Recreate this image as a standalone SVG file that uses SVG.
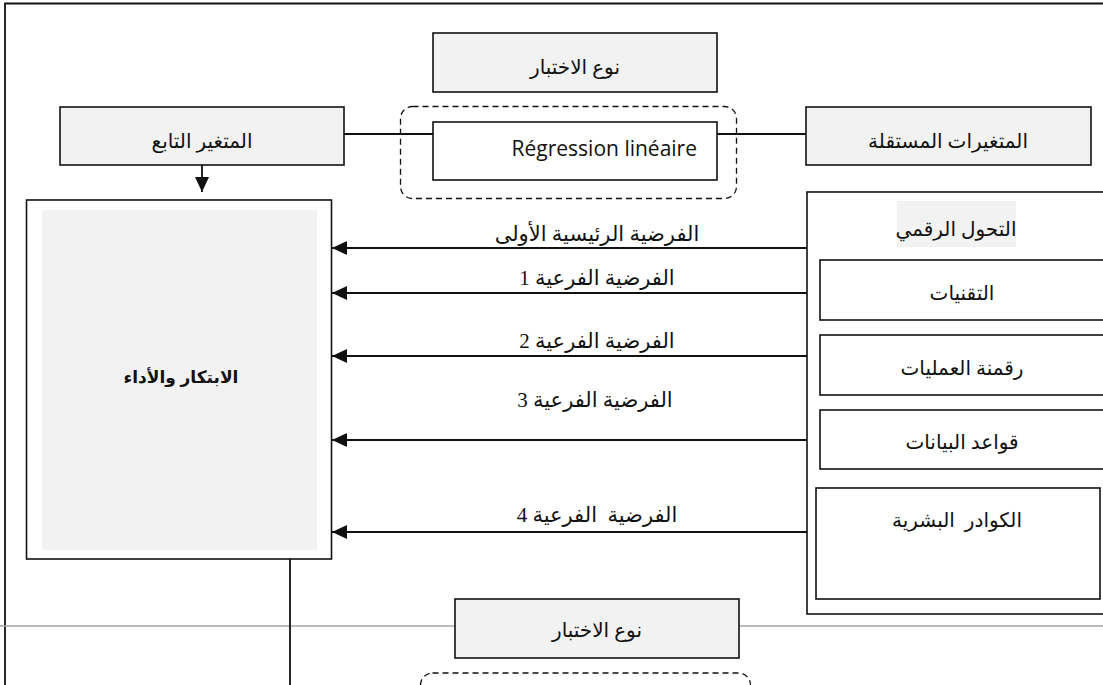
<svg xmlns="http://www.w3.org/2000/svg" width="1103" height="685" viewBox="0 0 1103 685">
<defs>
<style>
.box{fill:#fff;stroke:#111;stroke-width:1.6}
.gbox{fill:#f2f2f2;stroke:#111;stroke-width:1.6}
.dash{fill:none;stroke:#111;stroke-width:1.3;stroke-dasharray:6 4}
.ln{fill:none;stroke:#111;stroke-width:1.8}
.ar{font-family:"Liberation Serif","DejaVu Sans",serif;font-size:20px;fill:#111;text-anchor:middle}
.lbl{font-family:"Liberation Serif","DejaVu Sans",serif;font-size:21px;fill:#111;text-anchor:middle}
.lat{font-family:"Open Sans","Liberation Sans",sans-serif;font-size:21px;fill:#111;text-anchor:end}
.bold{font-family:"Liberation Sans","DejaVu Sans",sans-serif;font-size:17px;font-weight:bold;fill:#111;text-anchor:middle}
</style>
<marker id="ah" viewBox="0 0 15 14" refX="15" refY="7" markerWidth="15" markerHeight="14" markerUnits="userSpaceOnUse" orient="auto">
<path d="M0,0 L15,7 L0,14 z" fill="#111"/>
</marker>
</defs>
<g id="frame">
<path d="M5,685 L5,3.5 L1103,3.5" class="ln" stroke-width="1.6"/>
<path d="M0,626 L455,626 M739,626 L1103,626" fill="none" stroke="#a6a6a6" stroke-width="1.6"/>
</g>
<g id="connectors">
<path d="M344,134 L433,134 M717,134 L807,134" class="ln"/>
<path d="M202,165 L202,192" class="ln" marker-end="url(#ah)"/>
<path d="M807,248 L332,248" class="ln" marker-end="url(#ah)"/>
<path d="M807,293 L332,293" class="ln" marker-end="url(#ah)"/>
<path d="M807,356 L332,356" class="ln" marker-end="url(#ah)"/>
<path d="M807,440 L332,440" class="ln" marker-end="url(#ah)"/>
<path d="M807,532 L332,532" class="ln" marker-end="url(#ah)"/>
<path d="M290,559 L290,685" class="ln"/>
<text class="lbl" x="597" y="241">الفرضية الرئيسية الأولى</text>
<text class="lbl" x="597" y="285">الفرضية الفرعية 1</text>
<text class="lbl" x="597" y="348">الفرضية الفرعية 2</text>
<text class="lbl" x="595" y="407">الفرضية الفرعية 3</text>
<text class="lbl" x="597" y="522" xml:space="preserve">الفرضية  الفرعية 4</text>
</g>
<g id="test-type-top">
<rect class="gbox" x="433" y="33" width="284" height="59"/>
<text class="ar" x="575" y="74">نوع الاختبار</text>
</g>
<g id="regression-top">
<rect class="dash" x="400.5" y="106.5" width="336" height="92" rx="12"/>
<rect class="box" x="433" y="122" width="284" height="58"/>
<text class="lat" x="697" y="156">Régression linéaire</text>
</g>
<g id="dependent">
<rect class="gbox" x="60" y="107" width="284" height="58"/>
<text class="ar" x="202" y="148">المتغير التابع</text>
</g>
<g id="independent">
<rect class="gbox" x="806" y="107" width="285" height="58"/>
<text class="ar" x="948" y="148">المتغيرات المستقلة</text>
</g>
<g id="innovation">
<rect class="box" x="26.5" y="200" width="305" height="359"/>
<rect x="42" y="210" width="275" height="340" fill="#f2f2f2"/>
<text class="bold" x="181" y="383">الابتكار والأداء</text>
</g>
<g id="digital">
<rect class="box" x="807" y="192" width="310" height="422"/>
<rect x="897" y="201" width="119" height="46" fill="#f2f2f2"/>
<text class="ar" x="956" y="236">التحول الرقمي</text>
</g>
<g id="tech">
<rect class="box" x="820" y="260" width="295" height="60"/>
<text class="ar" x="962" y="300">التقنيات</text>
</g>
<g id="process">
<rect class="box" x="820" y="335" width="295" height="60"/>
<text class="ar" x="962" y="375">رقمنة العمليات</text>
</g>
<g id="database">
<rect class="box" x="820" y="410" width="295" height="59"/>
<text class="ar" x="962" y="449">قواعد البيانات</text>
</g>
<g id="human">
<rect class="box" x="816" y="488" width="284" height="111"/>
<text class="ar" x="957" y="527" xml:space="preserve">الكوادر  البشرية</text>
</g>
<g id="test-type-bottom">
<rect class="gbox" x="455" y="599" width="284" height="59"/>
<text class="ar" x="597" y="637">نوع الاختبار</text>
</g>
<g id="regression-bottom">
<rect class="dash" x="420.5" y="673" width="330" height="40" rx="12"/>
</g>
</svg>
